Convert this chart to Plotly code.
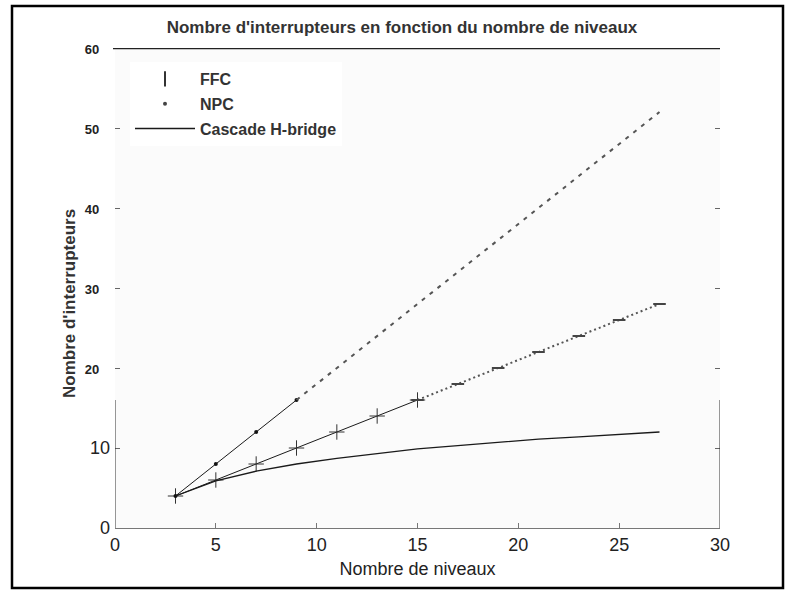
import plotly.graph_objects as go

# ---- data ----
levels = [3, 5, 7, 9, 11, 13, 15, 17, 19, 21, 23, 25, 27]
ffc = [4, 6, 8, 10, 12, 14, 16, 18, 20, 22, 24, 26, 28]
npc = [4, 8, 12, 16, 20, 24, 28, 32, 36, 40, 44, 48, 52]
chb = [4.0, 5.9, 7.1, 8.0, 8.7, 9.3, 9.9, 10.3, 10.7, 11.1, 11.4, 11.7, 12.0]
series_names = ["FFC", "NPC", "Cascade H-bridge"]
x_ticks = [0, 5, 10, 15, 20, 25, 30]
y_ticks = [0, 10, 20, 30, 40, 50, 60]
title_text = "Nombre d'interrupteurs en fonction du nombre de niveaux"
x_title = "Nombre de niveaux"
y_title = "Nombre d'interrupteurs"
intact_max = 16  # lines are drawn solid up to this value, faded above

W, H = 788, 592
ML, MR, MT, MB = 115, 68, 48, 64
PW, PH = W - ML - MR, H - MT - MB


def px_x(p):
    return (p - ML) / PW


def px_y(p):
    return (H - MB - p) / PH


def split(xs, ys):
    lo = [(a, b) for a, b in zip(xs, ys) if b <= intact_max]
    hi = [(a, b) for a, b in zip(xs, ys) if b >= intact_max]
    return ([a for a, _ in lo], [b for _, b in lo]), ([a for a, _ in hi], [b for _, b in hi])


fig = go.Figure()

# FFC (+ markers)
(fl_x, fl_y), (fh_x, fh_y) = split(levels, ffc)
fig.add_trace(go.Scatter(x=fl_x, y=fl_y, mode="lines+markers", showlegend=False,
                         line=dict(color="#1a1a1a", width=1),
                         marker=dict(symbol="cross-thin-open", size=11, color="#333",
                                     line=dict(color="#333", width=1))))
fig.add_trace(go.Scatter(x=fh_x, y=fh_y, mode="lines+markers", showlegend=False,
                         line=dict(color="#555", width=2, dash="2px,3px"),
                         marker=dict(symbol="line-ew-open", size=9, color="#444",
                                     line=dict(color="#444", width=2))))
# NPC (dot markers)
(nl_x, nl_y), (nh_x, nh_y) = split(levels, npc)
fig.add_trace(go.Scatter(x=nl_x, y=nl_y, mode="lines+markers", showlegend=False,
                         line=dict(color="#1a1a1a", width=1),
                         marker=dict(symbol="circle", size=4, color="#111")))
fig.add_trace(go.Scatter(x=nh_x, y=nh_y, mode="lines", showlegend=False,
                         line=dict(color="#555", width=2, dash="4px,6px")))
# Cascade H-bridge
fig.add_trace(go.Scatter(x=levels, y=chb, mode="lines", name=series_names[2],
                         legendgroup="c", legendrank=3,
                         line=dict(color="#1a1a1a", width=1.3)))

# legend-only entries (markers only, as in the reference)
fig.add_trace(go.Scatter(x=[None], y=[None], mode="markers", name=series_names[0],
                         legendgroup="a", legendrank=1,
                         marker=dict(symbol="line-ns-open", size=11, color="#333",
                                     line=dict(color="#333", width=2))))
fig.add_trace(go.Scatter(x=[None], y=[None], mode="markers", name=series_names[1],
                         legendgroup="b", legendrank=2,
                         marker=dict(symbol="circle", size=4, color="#444")))

ticktext = []
for v in y_ticks:
    if v <= 10:
        ticktext.append(str(v))
    else:
        ticktext.append('<span style="font-size:13px;font-weight:bold">%d\u00a0\u00a0\u00a0</span>' % v)

fig.update_layout(
    width=W, height=H,
    margin=dict(l=ML, r=MR, t=MT, b=MB),
    paper_bgcolor="white",
    plot_bgcolor="#fbfbfb",
    font=dict(family="Liberation Sans, Arial, sans-serif", color="#222"),
    title=dict(text=title_text, x=px_x(402), xanchor="center", xref="paper",
               y=(H - 27) / H, yanchor="middle",
               font=dict(size=17, color="#333", family="Liberation Sans, Arial, sans-serif", weight="bold")),
    xaxis=dict(range=[0, 30], tickvals=x_ticks, ticks="inside", ticklen=5, tickcolor="#777",
               showline=True, linecolor="#777", linewidth=1, showgrid=False, zeroline=False,
               tickfont=dict(size=18, color="#222"),
               title=dict(text=x_title, font=dict(size=18, color="#222"), standoff=8)),
    yaxis=dict(range=[0, 60], tickvals=y_ticks, ticktext=ticktext, ticks="inside", ticklen=5,
               tickcolor="#666", mirror="ticks", showline=False, showgrid=False, zeroline=False,
               ticklabelstandoff=4,
               tickfont=dict(size=18, color="#222")),
    legend=dict(x=px_x(130), y=px_y(62), xanchor="left", yanchor="top",
                bgcolor="white", borderwidth=0, itemwidth=60, tracegroupgap=1,
                font=dict(size=16, color="#333", weight="bold")),
    showlegend=True,
)

# y axis title
fig.add_annotation(text=y_title, textangle=-90, xref="paper", yref="paper",
                   x=px_x(69), y=px_y(304), xanchor="center", yanchor="middle",
                   showarrow=False,
                   font=dict(size=17, color="#333", weight="bold"))

# frame pieces (left & right edges only intact at the bottom, top edge at 60)
fig.add_shape(type="line", xref="x", yref="y", x0=0, x1=0, y0=0, y1=intact_max,
              line=dict(color="#333", width=1))
fig.add_shape(type="line", xref="x", yref="y", x0=30, x1=30, y0=0, y1=intact_max,
              line=dict(color="#333", width=1))
fig.add_shape(type="line", xref="paper", yref="y", x0=px_x(113), x1=1, y0=60, y1=60,
              line=dict(color="#222", width=2.5))
# outer border of the picture
fig.add_shape(type="rect", xref="paper", yref="paper",
              x0=px_x(12), x1=px_x(783), y0=px_y(6), y1=px_y(588),
              line=dict(color="black", width=2.5))

fig.write_html("out.html", config={"displayModeBar": False},
               post_script="document.body.style.margin='0';")
